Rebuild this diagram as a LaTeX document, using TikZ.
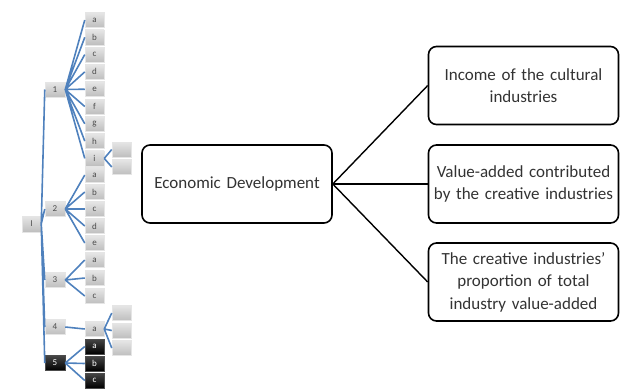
\documentclass[tikz,border=0pt]{standalone}
\usepackage{fontspec}
\setmainfont{Carlito}
\usepackage{tikz}
\usetikzlibrary{positioning,shadings}
\usepackage{xcolor}
\definecolor{twigblue}{RGB}{79,129,189}
\definecolor{leafgray}{RGB}{190,190,190}
\tikzset{
    leaf/.style={
        draw=white!80!gray,line width=0.5pt,top color=white!80!gray,bottom color=leafgray,
        minimum width=19pt,minimum height=15pt,inner sep=0pt,
        font=\fontsize{9}{9}\selectfont,text=black!70
    },
    darkleaf/.style={
        leaf,draw=gray!60!black,top color=gray!55!black,bottom color=black,text=white
    },
    twig/.style={
        draw=twigblue,line width=1.6pt
    },
    box/.style={
        draw=black,line width=1.6pt,rounded corners=8pt,fill=white,
        minimum width=190pt,minimum height=78pt,text width=182pt,align=center,
        font=\fontsize{17}{22.5}\selectfont,text=black!80
    },
    link/.style={
        draw=black,line width=1.4pt
    }
}

\begin{document}
\begin{tikzpicture}[x=1pt,y=-1pt]

\useasboundingbox (0,0) rectangle (631,391);

% hierarchy tree
\node[leaf,minimum height=16pt](r) at (31.5,224) {I};

\node[leaf,minimum width=20pt](n1) at (55,89.5) {1};
\node[leaf,minimum width=20pt](n2) at (55,209) {2};
\node[leaf,minimum width=20pt](n3) at (55,280) {3};
\node[leaf,minimum width=20pt](n4) at (55,327) {4};
\node[darkleaf,minimum width=20pt](n5) at (55,363) {5};

\node[leaf](n1a) at (94.5,20) {a};
\node[leaf](n1b) at (94.5,37.3) {b};
\node[leaf](n1c) at (94.5,54.6) {c};
\node[leaf](n1d) at (94.5,71.9) {d};
\node[leaf](n1e) at (94.5,89.2) {e};
\node[leaf](n1f) at (94.5,106.5) {f};
\node[leaf](n1g) at (94.5,123.8) {g};
\node[leaf](n1h) at (94.5,141.1) {h};
\node[leaf](n1i) at (94.5,158.4) {i};

\node[leaf](n2a) at (94.5,175) {a};
\node[leaf](n2b) at (94.5,192) {b};
\node[leaf](n2c) at (94.5,209) {c};
\node[leaf](n2d) at (94.5,226) {d};
\node[leaf](n2e) at (94.5,243) {e};

\node[leaf](n3a) at (94.5,260) {a};
\node[leaf](n3b) at (94.5,278) {b};
\node[leaf](n3c) at (94.5,296) {c};

\node[leaf](n4a) at (94.5,329) {a};

\node[darkleaf](n5a) at (94.5,346.5) {a};
\node[darkleaf](n5b) at (94.5,363.5) {b};
\node[darkleaf](n5c) at (94.5,380.5) {c};

\node[leaf](n1i1) at (121.5,149.5) {};
\node[leaf](n1i2) at (121.5,167) {};
\node[leaf](n4a1) at (121.5,313) {};
\node[leaf](n4a2) at (121.5,330.5) {};
\node[leaf](n4a3) at (121.5,348) {};

\draw[twig] (r.east) -- (n1.west) (r.east) -- (n2.west) (r.east) -- (n3.west)
    (r.east) -- (n4.west) (r.east) -- (n5.west);
\draw[twig] (n1.east) -- (n1a.west) (n1.east) -- (n1b.west) (n1.east) -- (n1c.west)
    (n1.east) -- (n1d.west) (n1.east) -- (n1e.west) (n1.east) -- (n1f.west)
    (n1.east) -- (n1g.west) (n1.east) -- (n1h.west) (n1.east) -- (n1i.west);
\draw[twig] (n2.east) -- (n2a.west) (n2.east) -- (n2b.west) (n2.east) -- (n2c.west)
    (n2.east) -- (n2d.west) (n2.east) -- (n2e.west);
\draw[twig] (n3.east) -- (n3a.west) (n3.east) -- (n3b.west) (n3.east) -- (n3c.west);
\draw[twig] (n4.east) -- (n4a.west);
\draw[twig] (n5.east) -- (n5a.west) (n5.east) -- (n5b.west) (n5.east) -- (n5c.west);
\draw[twig] (n1i.east) -- (n1i1.west) (n1i.east) -- (n1i2.west);
\draw[twig] (n4a.east) -- (n4a1.west) (n4a.east) -- (n4a2.west) (n4a.east) -- (n4a3.west);

% indicator boxes
\node[box](ed) at (237,184) {Economic Development};
\node[box](inc) at (523.5,85.5) {Income of the cultural\\industries};
\node[box](val) at (523.5,184) {Value-added contributed\\by the creative industries};
\node[box](pro) at (523.5,282) {The creative industries’\\proportion of total\\industry value-added};

\draw[link] (ed.east) -- (inc.west);
\draw[link] (ed.east) -- (val.west);
\draw[link] (ed.east) -- (pro.west);

\end{tikzpicture}
\end{document}
